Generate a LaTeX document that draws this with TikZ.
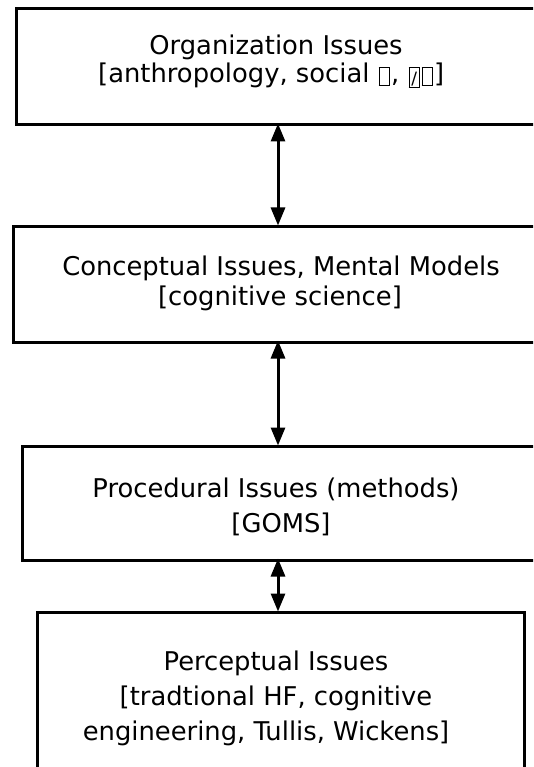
\documentclass[tikz,border=0pt]{standalone}
\usepackage{fontspec}
\setmainfont{DejaVu Sans}
\usetikzlibrary{arrows.meta}

% empty glyph boxes as printed in place of characters the font lacked
\newcommand\nglyph{{\fboxsep0pt\fboxrule1pt\kern1pt\raisebox{-2pt}{\fbox{\rule{0pt}{17pt}\hspace{9.5pt}}}\kern1pt}}
\newcommand\nglyphslash{{\fboxsep0pt\fboxrule1pt\kern1pt\raisebox{-2pt}{\fbox{\rule{0pt}{17pt}\makebox[9.5pt]{\fontsize{17}{17}\selectfont/}}}\kern0.5pt}}

\begin{document}
\begin{tikzpicture}[x=1pt,y=-1pt,
  layer/.style={draw=black,line width=2.6pt,fill=none},
  label/.style={font=\fontsize{25.8}{30}\selectfont,inner sep=0pt,anchor=base},
  link/.style={line width=3pt,{Triangle[length=18pt,width=14pt]}-{Triangle[length=18pt,width=14pt]},shorten <=-0.5pt,shorten >=-0.5pt}]
  \useasboundingbox (0,0) rectangle (533,767);
  \clip (0,0) rectangle (533,767);

  % the four layers, top to bottom
  \node[layer,minimum width=530pt,minimum height=116pt,anchor=north west] (org) at (15,7) {};
  \node[layer,minimum width=533pt,minimum height=116pt,anchor=north west] (con) at (12,225) {};
  \node[layer,minimum width=525pt,minimum height=114pt,anchor=north west] (pro) at (21,445) {};
  \node[layer,minimum width=487pt,minimum height=170pt,anchor=north west] (per) at (36,611) {};

  % texts
  \node[label] (orgA) at (276,55) {Organization Issues};
  \node[label,anchor=base west] (orgB) at (98,83) {[anthropology, social \nglyph, \nglyphslash\nglyph]};
  \node[label] (conA) at (281,275) {Conceptual Issues, Mental Models};
  \node[label] (conB) at (280,305) {[cognitive science]};
  \node[label] (proA) at (276,497) {Procedural Issues (methods)};
  \node[label] (proB) at (281,532) {[GOMS]};
  \node[label] (perA) at (276,670) {Perceptual Issues};
  \node[label] (perB) at (276,705) {[tradtional HF, cognitive};
  \node[label] (perC) at (266,740) {engineering, Tullis, Wickens]};

  % two-way links between neighbouring layers
  \coordinate (a1) at (278,124);
  \coordinate (a2) at (278,225);
  \coordinate (b1) at (278,341);
  \coordinate (b2) at (278,445);
  \coordinate (c1) at (278,559);
  \coordinate (c2) at (278,611);
  \draw[link] (a1) -- (a2);
  \draw[link] (b1) -- (b2);
  \draw[link] (c1) -- (c2);
\end{tikzpicture}
\end{document}
